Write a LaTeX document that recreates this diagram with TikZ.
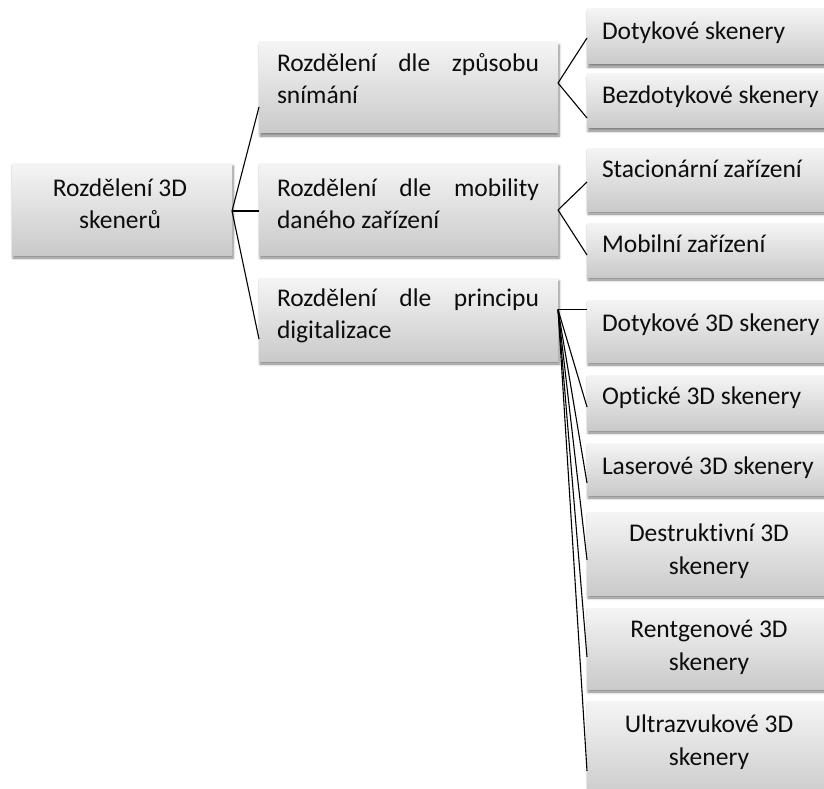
\documentclass[tikz,border=0pt]{standalone}
\usepackage{fontspec}
\setmainfont{Carlito}[Ligatures={NoCommon}]
\usetikzlibrary{shadows.blur}
\hyphenpenalty=10000
\exhyphenpenalty=10000
\begin{document}
\begin{tikzpicture}[x=1pt,y=-1pt,
  boxst/.style={rectangle, inner sep=0pt, outer sep=0pt, anchor=north west,
    top color=black!4, bottom color=black!21, draw=none,
    blur shadow={shadow xshift=1pt, shadow yshift=-3pt, shadow blur steps=6,
      shadow blur radius=2.5pt, shadow opacity=50}},
  txt/.style={inner sep=0pt, outer sep=0pt,
    font=\fontsize{25.5}{32.5}\selectfont, text=black!95},
  jtxt/.style={txt, anchor=base west, text width=262pt, align=justify},
  ctxt/.style={txt, anchor=base, align=center},
  ltxt/.style={txt, anchor=base west},
  conn/.style={draw=black, line width=1.1pt}]
\newcommand\mkbox[5]{\node[boxst, minimum width={(#4-#2)*1pt}, minimum height={(#5-#3)*1pt}] (#1) at (#2,#3) {};}
\useasboundingbox (0,0) rectangle (824,789);
\begin{scope}
\clip (0,0) rectangle (824,789);
% boxes
\mkbox{root}{12}{163}{232}{255}
\mkbox{La}{259}{42}{558}{133}
\mkbox{Lb}{259}{163}{558}{255}
\mkbox{Lc}{259}{278}{558}{361}
\mkbox{D1}{587}{9}{828}{64}
\mkbox{D2}{587}{74}{828}{128}
\mkbox{S1}{587}{148}{828}{211}
\mkbox{S2}{587}{223}{828}{277}
\mkbox{P1}{587}{300}{828}{362}
\mkbox{P2}{587}{375}{828}{430}
\mkbox{P3}{587}{443}{828}{495}
\mkbox{P4}{587}{512}{828}{595}
\mkbox{P5}{587}{608}{828}{689}
\mkbox{P6}{587}{701}{828}{800}
\end{scope}
% texts (base = baseline of the last line)
\node[ctxt] (troot) at (120,228.5) {Rozdělení 3D\\skenerů};
\node[jtxt] (tLa) at (277,71.5) {Rozdělení dle způsobu\linebreak snímání};
\node[jtxt] (tLb) at (277,196) {Rozdělení dle mobility\linebreak daného zařízení};
\node[jtxt] (tLc) at (277,306) {Rozdělení dle principu\linebreak digitalizace};
\node[ltxt] (tD1) at (602,40) {Dotykové skenery};
\node[ltxt] (tD2) at (602,104) {Bezdotykové skenery};
\node[ltxt] (tS1) at (602,177) {Stacionární zařízení};
\node[ltxt] (tS2) at (602,252) {Mobilní zařízení};
\node[ltxt] (tP1) at (602,331) {Dotykové 3D skenery};
\node[ltxt] (tP2) at (602,404) {Optické 3D skenery};
\node[ltxt] (tP3) at (602,474) {Laserové 3D skenery};
\node[ctxt] (tP4) at (709,574) {Destruktivní 3D\\skenery};
\node[ctxt] (tP5) at (709,670) {Rentgenové 3D\\skenery};
\node[ctxt] (tP6) at (709,765) {Ultrazvukové 3D\\skenery};
% connectors
\draw[conn] ([yshift=-2pt]root.east) -- ([yshift=-19.5pt]La.west);
\draw[conn] ([yshift=-2pt]root.east) -- ([yshift=-2pt]Lb.west);
\draw[conn] ([yshift=-2pt]root.east) -- ([yshift=-19.5pt]Lc.west);
\draw[conn] ([yshift=4.5pt]La.east) -- ([yshift=-1.5pt]D1.west);
\draw[conn] ([yshift=4.5pt]La.east) -- ([yshift=-17pt]D2.west);
\draw[conn] ([yshift=-1pt]Lb.east) -- ([yshift=-2.5pt]S1.west);
\draw[conn] ([yshift=-1pt]Lb.east) -- ([yshift=-5pt]S2.west);
\draw[conn] ([yshift=10pt]Lc.east) -- ([yshift=21.5pt]P1.west);
\draw[conn] ([yshift=10pt]Lc.east) -- ([yshift=-4.5pt]P2.west);
\draw[conn] ([yshift=10pt]Lc.east) -- ([yshift=-14pt]P3.west);
\draw[conn] ([yshift=10pt]Lc.east) -- ([yshift=-6.5pt]P4.west);
\draw[conn] ([yshift=10pt]Lc.east) -- ([yshift=-8.5pt]P5.west);
\draw[conn] ([yshift=10pt]Lc.east) -- ([yshift=-20.5pt]P6.west);
\end{tikzpicture}
\end{document}
